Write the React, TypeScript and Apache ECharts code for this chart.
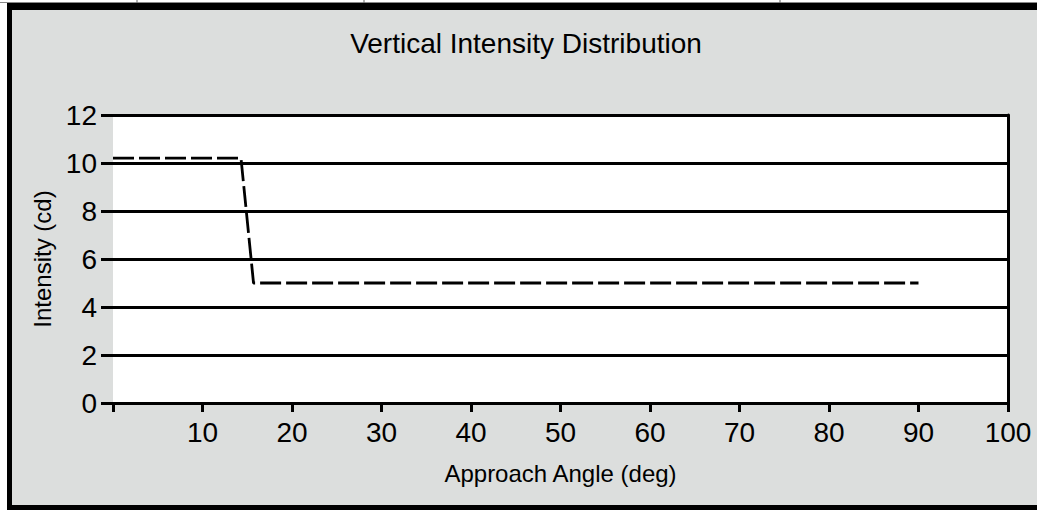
import React, { useEffect, useRef } from "react";
import * as echarts from "echarts";

const angles = [0, 14.3, 15.7, 90];
const intensity = [10.2, 10.2, 5, 5];
const xTicks = [0, 10, 20, 30, 40, 50, 60, 70, 80, 90, 100];
const yTicks = [0, 2, 4, 6, 8, 10, 12];

const FONT = "'Liberation Sans', Arial, sans-serif";

export default function App() {
  const ref = useRef<HTMLDivElement>(null);
  useEffect(() => {
    if (!ref.current) return;
    const chart = echarts.init(ref.current, undefined, { renderer: "svg" });
    chart.setOption({
      animation: false,
      backgroundColor: "#dcdedd",
      title: {
        text: "Vertical Intensity Distribution",
        left: 521,
        textAlign: "center",
        top: 24,
        textStyle: { fontFamily: FONT, fontSize: 28, fontWeight: "normal", color: "#000" },
      },
      grid: {
        left: 113,
        right: 29,
        top: 115,
        bottom: 107,
        show: true,
        backgroundColor: "#ffffff",
        borderWidth: 0,
      },
      xAxis: {
        type: "value",
        min: xTicks[0],
        max: xTicks[xTicks.length - 1],
        interval: 10,
        name: "Approach Angle (deg)",
        nameLocation: "middle",
        nameGap: 58,
        nameTextStyle: { fontFamily: FONT, fontSize: 24, color: "#000" },
        axisLine: { show: true, lineStyle: { color: "#000", width: 3 } },
        axisTick: { show: true, length: 9, lineStyle: { color: "#000", width: 3 } },
        axisLabel: {
          fontFamily: FONT,
          fontSize: 28,
          color: "#000",
          margin: 15,
          formatter: (v: number) => (v === 0 ? "" : String(v)),
        },
        splitLine: { show: false },
      },
      yAxis: [
        {
          type: "value",
          min: yTicks[0],
          max: yTicks[yTicks.length - 1],
          interval: 2,
          name: "Intensity (cd)",
          nameLocation: "middle",
          nameGap: 51,
          nameRotate: 90,
          nameTextStyle: { fontFamily: FONT, fontSize: 24, color: "#000" },
          axisLine: { show: false },
          axisTick: { show: true, length: 12, lineStyle: { color: "#000", width: 3 } },
          axisLabel: { fontFamily: FONT, fontSize: 28, color: "#000", margin: 16 },
          splitLine: { show: true, lineStyle: { color: "#000", width: 3 } },
        },
        {
          type: "value",
          position: "right",
          min: yTicks[0],
          max: yTicks[yTicks.length - 1],
          interval: 2,
          axisLine: { show: true, lineStyle: { color: "#000", width: 3 } },
          axisTick: { show: false },
          axisLabel: { show: false },
          splitLine: { show: false },
        },
      ],
      series: [
        {
          type: "line",
          data: angles.map((a, i) => [a, intensity[i]]),
          showSymbol: false,
          symbol: "none",
          lineStyle: { color: "#000", width: 2.8, type: [21, 5] },
        },
      ],
      graphic: [
        { type: "rect", shape: { x: 0, y: 0, width: 1037, height: 3 }, style: { fill: "#fff" } },
        { type: "rect", shape: { x: 0, y: 0, width: 7, height: 510 }, style: { fill: "#fff" } },
        { type: "line", shape: { x1: 0, y1: 2.5, x2: 1037, y2: 2.5 }, style: { stroke: "#888", lineWidth: 1 } },
        { type: "line", shape: { x1: 137, y1: 0, x2: 137, y2: 3 }, style: { stroke: "#666", lineWidth: 1 } },
        { type: "line", shape: { x1: 364, y1: 0, x2: 364, y2: 3 }, style: { stroke: "#666", lineWidth: 1 } },
        { type: "line", shape: { x1: 780, y1: 0, x2: 780, y2: 3 }, style: { stroke: "#666", lineWidth: 1 } },
        { type: "rect", shape: { x: 7, y: 3, width: 1030, height: 7 }, style: { fill: "#000" } },
        { type: "rect", shape: { x: 7, y: 3, width: 5, height: 507 }, style: { fill: "#000" } },
        { type: "rect", shape: { x: 7, y: 505, width: 1030, height: 5 }, style: { fill: "#000" } },
      ],
    });
    return () => chart.dispose();
  }, []);
  return (
    <div
      ref={ref}
      style={{ position: "absolute", left: 0, top: 0, width: 1037, height: 510 }}
    />
  );
}
